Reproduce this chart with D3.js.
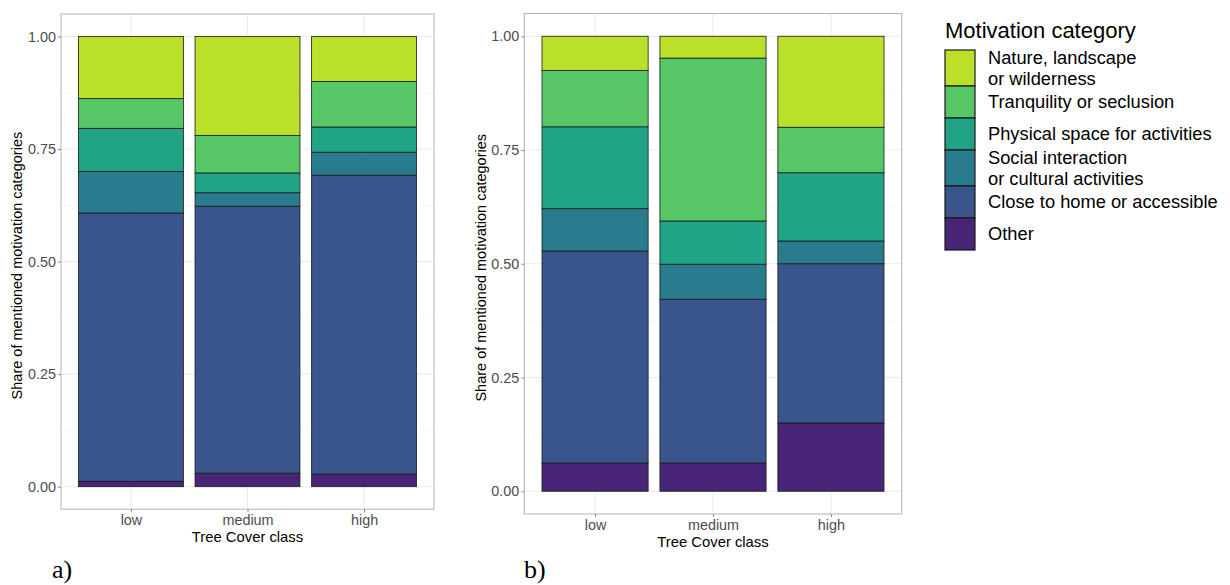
<!DOCTYPE html>
<html>
<head>
<meta charset="utf-8">
<script src="https://cdn.jsdelivr.net/npm/d3@7"></script>
<style>
  html, body { margin: 0; padding: 0; background: #ffffff; }
  svg { display: block; font-family: "Liberation Sans", Arial, sans-serif; }
</style>
</head>
<body>
<svg id="chart" width="1230" height="585"></svg>
<script>
// Tree cover classes on the x axis
const treeCover = ["low", "medium", "high"];

// Motivation categories, stacked from the bottom up
const categories = [
  "Other",
  "Close to home or accessible",
  "Social interaction or cultural activities",
  "Physical space for activities",
  "Tranquility or seclusion",
  "Nature, landscape or wilderness"
];

// Legend entries (top to bottom), split into lines
const legendLabels = [
  ["Nature, landscape", "or wilderness"],
  ["Tranquility or seclusion"],
  ["Physical space for activities"],
  ["Social interaction", "or cultural activities"],
  ["Close to home or accessible"],
  ["Other"]
];

const categoryColors = ["#482576", "#3A548C", "#287C8E", "#21A386", "#56C667", "#BBE02A"];

// Panel a) shares per tree cover class (low, medium, high)
const otherA    = [0.012, 0.030, 0.028];
const closeA    = [0.596, 0.593, 0.664];
const socialA   = [0.092, 0.030, 0.051];
const physicalA = [0.096, 0.044, 0.056];
const tranquilA = [0.066, 0.083, 0.101];
const natureA   = [0.138, 0.220, 0.100];

// Panel b) shares per tree cover class (low, medium, high)
const otherB    = [0.062, 0.062, 0.150];
const closeB    = [0.466, 0.360, 0.350];
const socialB   = [0.093, 0.077, 0.050];
const physicalB = [0.180, 0.095, 0.150];
const tranquilB = [0.124, 0.358, 0.100];
const natureB   = [0.075, 0.048, 0.200];

const yTicks = [0, 0.25, 0.5, 0.75, 1];
const yMinor = [0.125, 0.375, 0.625, 0.875];

const svg = d3.select("#chart");

function buildRows(series) {
  return treeCover.map((tc, i) => {
    const row = { tc };
    categories.forEach((c, k) => { row[c] = series[k][i]; });
    return row;
  });
}

function drawPanel(cfg) {
  const rows = buildRows(cfg.series);
  const stacked = d3.stack().keys(categories)(rows);

  const x = d3.scalePoint().domain(treeCover).range([cfg.left, cfg.right]).padding(0.6);
  const barW = x.step() * 0.9;
  const y = d3.scaleLinear().domain([-0.05, 1.05]).range([cfg.bottom, cfg.top]);

  const g = svg.append("g");

  // background grid
  g.selectAll("line.minor").data(yMinor).join("line")
    .attr("x1", cfg.left).attr("x2", cfg.right)
    .attr("y1", d => y(d)).attr("y2", d => y(d))
    .attr("stroke", "#f2f2f2").attr("stroke-width", 0.6);
  g.selectAll("line.major").data(yTicks).join("line")
    .attr("x1", cfg.left).attr("x2", cfg.right)
    .attr("y1", d => y(d)).attr("y2", d => y(d))
    .attr("stroke", "#ebebeb").attr("stroke-width", 1.1);
  g.selectAll("line.vmajor").data(treeCover).join("line")
    .attr("x1", d => x(d)).attr("x2", d => x(d))
    .attr("y1", cfg.top).attr("y2", cfg.bottom)
    .attr("stroke", "#ebebeb").attr("stroke-width", 1.1);

  // stacked bars
  g.selectAll("g.layer").data(stacked).join("g")
    .attr("fill", (d, i) => categoryColors[i])
    .selectAll("rect").data(d => d).join("rect")
    .attr("x", d => x(d.data.tc) - barW / 2)
    .attr("width", barW)
    .attr("y", d => y(d[1]))
    .attr("height", d => y(d[0]) - y(d[1]))
    .attr("stroke", "#1a1a1a").attr("stroke-width", 0.8);

  // panel border
  g.append("rect")
    .attr("x", cfg.left).attr("y", cfg.top)
    .attr("width", cfg.right - cfg.left).attr("height", cfg.bottom - cfg.top)
    .attr("fill", "none").attr("stroke", "#b8b8b8").attr("stroke-width", 1.1);

  // y axis
  const yAxis = d3.axisLeft(y).tickValues(yTicks).tickFormat(d3.format(".2f")).tickSize(3).tickPadding(2);
  const ya = g.append("g").attr("transform", `translate(${cfg.left},0)`).call(yAxis);
  ya.select(".domain").remove();
  ya.selectAll(".tick line").attr("stroke", "#8c8c8c");
  ya.selectAll(".tick text").attr("fill", "#4d4d4d")
    .style("font-size", "14.4px").style("font-family", "Liberation Sans, Arial, sans-serif");

  // x axis
  const xAxis = d3.axisBottom(x).tickSize(3).tickPadding(3);
  const xa = g.append("g").attr("transform", `translate(0,${cfg.bottom})`).call(xAxis);
  xa.select(".domain").remove();
  xa.selectAll(".tick line").attr("stroke", "#8c8c8c");
  xa.selectAll(".tick text").attr("fill", "#4d4d4d")
    .style("font-size", "14.4px").style("font-family", "Liberation Sans, Arial, sans-serif");

  // axis titles
  g.append("text")
    .attr("x", (cfg.left + cfg.right) / 2).attr("y", cfg.bottom + 32.5)
    .attr("text-anchor", "middle").attr("fill", "#000")
    .style("font-size", "14.8px").text("Tree Cover class");
  g.append("text")
    .attr("transform", `translate(${cfg.yTitleX},${(cfg.top + cfg.bottom) / 2 + 4}) rotate(-90)`)
    .attr("text-anchor", "middle").attr("fill", "#000")
    .style("font-size", "14.5px").text("Share of mentioned motivation categories");

  // panel tag
  svg.append("text")
    .attr("x", cfg.tagX).attr("y", 578)
    .attr("fill", "#000")
    .style("font-family", "Liberation Serif, Times New Roman, serif")
    .style("font-size", "26px").text(cfg.tag);
}

drawPanel({
  left: 61, right: 434, top: 14, bottom: 509.2, yTitleX: 21.5, tagX: 52, tag: "a)",
  series: [otherA, closeA, socialA, physicalA, tranquilA, natureA]
});
drawPanel({
  left: 524.3, right: 901.7, top: 13.5, bottom: 514, yTitleX: 485.5, tagX: 524, tag: "b)",
  series: [otherB, closeB, socialB, physicalB, tranquilB, natureB]
});

// legend
const legend = svg.append("g");
legend.append("text")
  .attr("x", 945).attr("y", 38)
  .attr("fill", "#000").style("font-size", "22px").text("Motivation category");

const legendColors = categoryColors.slice().reverse();
let keyY = 50;
legendLabels.forEach((lines, i) => {
  const h = lines.length > 1 ? 36 : 32;
  legend.append("rect")
    .attr("x", 945).attr("y", keyY).attr("width", 30).attr("height", h)
    .attr("fill", legendColors[i]).attr("stroke", "#1a1a1a").attr("stroke-width", 1.2);
  const cy = keyY + h / 2;
  const lh = 20.5;
  const t = legend.append("text").attr("fill", "#000").style("font-size", "18.3px");
  lines.forEach((ln, j) => {
    t.append("tspan")
      .attr("x", 988)
      .attr("y", cy + 6.4 + (j - (lines.length - 1) / 2) * lh)
      .text(ln);
  });
  keyY += h;
});
</script>
</body>
</html>
